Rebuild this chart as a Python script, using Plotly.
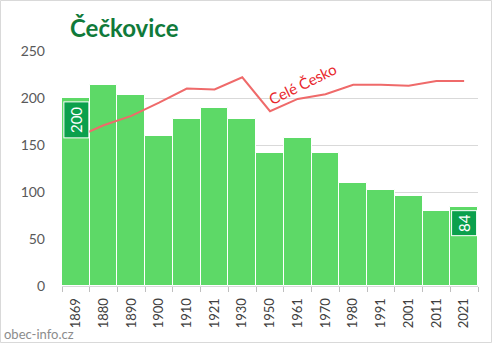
import plotly.graph_objects as go

years = ["1869", "1880", "1890", "1900", "1910", "1921", "1930", "1950",
         "1961", "1970", "1980", "1991", "2001", "2011", "2021"]
obec = [200, 214, 203, 160, 178, 189, 178, 141, 157, 142, 110, 102, 96, 80, 84]
cesko = [158, 171, 181, 195, 210, 209, 222, 186, 199, 204, 214, 214, 213, 218, 218]
y_ticks = [0, 50, 100, 150, 200, 250]

W, H = 492, 343
L, R, T, B = 62, 14, 51, 57
pw, ph = W - L - R, H - T - B

pos = list(range(len(years)))

fig = go.Figure()
fig.add_trace(go.Bar(x=pos, y=obec, width=1, marker=dict(color="#5dd967", line=dict(color="#ffffff", width=1)),
                     hoverinfo="skip"))
fig.add_trace(go.Scatter(x=pos, y=cesko, mode="lines", line=dict(color="#ef6a6a", width=2),
                         hoverinfo="skip"))

font = "Lato, 'Open Sans', sans-serif"

# value labels on first and last bar
for i, h in [(0, 35), (len(years) - 1, 24)]:
    fig.add_annotation(x=pos[i], y=obec[i], text=str(obec[i]), textangle=-90,
                       showarrow=False, yanchor="top", xanchor="center", yshift=-3,
                       width=h, height=24, bgcolor="#0ba04c", bordercolor="#ffffff", borderwidth=1,
                       borderpad=0, font=dict(color="white", size=15, family=font))

fig.add_annotation(x=(302 - L) / pw, y=(H - B - 84) / ph, xref="paper", yref="paper",
                   text="Celé Česko", textangle=-26, showarrow=False,
                   xanchor="center", yanchor="middle",
                   font=dict(color="#e8262b", size=15, family=font))

fig.add_annotation(x=(68 - L) / pw, y=(H - B - 27) / ph, xref="paper", yref="paper",
                   text="<b>Čečkovice</b>", showarrow=False, xanchor="left", yanchor="middle",
                   font=dict(color="#107a3a", size=24, family=font))

fig.add_annotation(x=(2 - L) / pw, y=(H - B - 334) / ph, xref="paper", yref="paper",
                   text="obec-info.cz", showarrow=False, xanchor="left", yanchor="middle",
                   font=dict(color="#8c8c8c", size=13, family=font))

fig.add_shape(type="rect", xref="paper", yref="paper",
              x0=(0.5 - L) / pw, x1=(W - 0.5 - L) / pw,
              y0=(H - B - (H - 0.5)) / ph, y1=(H - B - 0.5) / ph,
              line=dict(color="#d9d9d9", width=1), layer="above")

fig.update_layout(
    width=W, height=H, margin=dict(l=L, r=R, t=T, b=B),
    paper_bgcolor="white", plot_bgcolor="white", showlegend=False, bargap=0,
    xaxis=dict(range=[-0.5, len(years) - 0.5], tickvals=pos, ticktext=years, tickangle=-90,
               ticks="", showline=True, linecolor="#d9d9d9", showgrid=False, zeroline=False,
               ticklabelstandoff=6,
               minor=dict(tickvals=[p - 0.5 for p in pos] + [len(years) - 0.5], ticks="outside",
                          ticklen=5, tickcolor="#bfbfbf", showgrid=False),
               tickfont=dict(size=13, color="#404040", family=font)),
    yaxis=dict(range=[0, 250], tickvals=y_ticks, showgrid=True, gridcolor="#d9d9d9",
               zeroline=False, ticklabelstandoff=16,
               tickfont=dict(size=14, color="#595959", family=font)),
)

fig.write_html("out.html")
